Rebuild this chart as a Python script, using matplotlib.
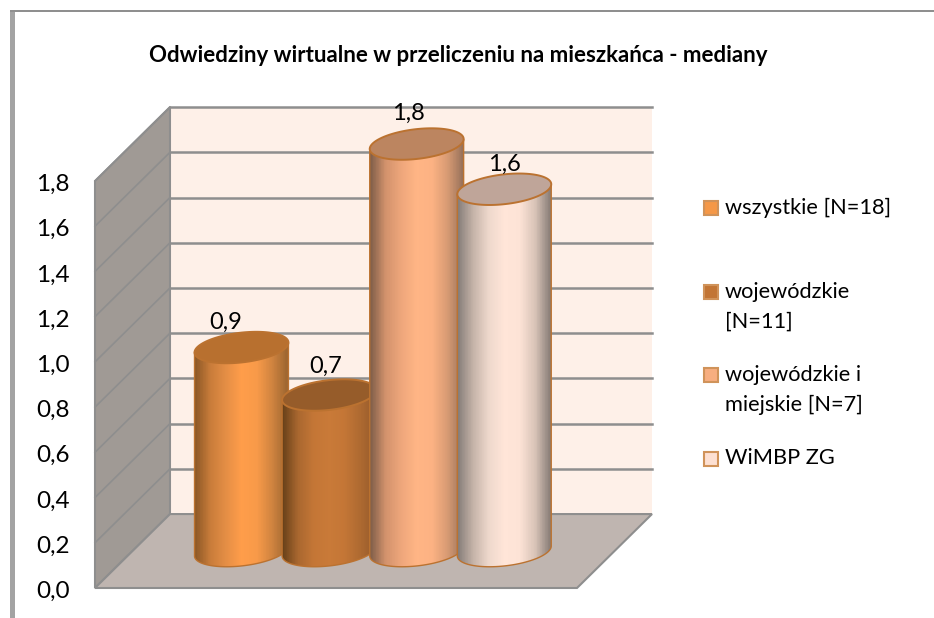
import numpy as np
import matplotlib
matplotlib.use('Agg')
import matplotlib.pyplot as plt
from matplotlib.colors import LinearSegmentedColormap
from matplotlib.patches import Polygon, Rectangle
from matplotlib.transforms import ScaledTranslation

plt.rcParams['font.family'] = ['Lato', 'DejaVu Sans']

# Data
title = 'Odwiedziny wirtualne w przeliczeniu na mieszkańca - mediany'
series = ['wszystkie [N=18]', 'wojewódzkie\n[N=11]', 'wojewódzkie i\nmiejskie [N=7]', 'WiMBP ZG']
values = [0.9, 0.69, 1.8, 1.6]
y_ticks = [0.0, 0.2, 0.4, 0.6, 0.8, 1.0, 1.2, 1.4, 1.6, 1.8]

# Colours
body_colors = [
    ['#8a5726', '#c97c3a', '#e48e45', '#ff9d4a', '#f89a49', '#cf833f', '#9a642f'],
    ['#674019', '#a9672f', '#c47636', '#c97a38', '#c47636', '#ae6a31', '#95592a'],
    ['#7d5c48', '#d2926c', '#eea67b', '#ffb585', '#fcb283', '#d79a73', '#96705a'],
    ['#847c78', '#c5b3a8', '#eed8cc', '#ffe5d8', '#fde3d6', '#d8c3b7', '#857a74'],
]
top_colors = ['#b8702f', '#965c2a', '#bc8560', '#bfa599']
legend_colors = ['#f59847', '#c27535', '#f7ae80', '#fde0d2']
edge_color = '#bb7230'
legend_edge = '#d0935a'
wall_color = '#a09a95'
back_color = '#fef0e8'
floor_color = '#bfb5b0'
grid_color = '#8e8e8e'

fig = plt.figure(figsize=(9.34, 6.18), dpi=100)
W, H = 934, 618
# axes = the front plane of the 3d box
ax = fig.add_axes([95 / W, (H - 588) / H, 482 / W, 407 / H])
ax.set_facecolor('none')
for s in ax.spines.values():
    s.set_visible(False)

depth_x = 0.856
depth_y = 0.327
half_w = 0.536
tilt_a = 0.022
tilt_b = 0.066
x0, x1 = -1.672, 3.83
y_top = y_ticks[-1]

# walls and floor
ax.add_patch(Polygon([(x0 + depth_x, depth_y), (x1 + depth_x, depth_y), (x1 + depth_x, y_top + depth_y),
                      (x0 + depth_x, y_top + depth_y)], fc=back_color, ec='none', clip_on=False, zorder=1))
ax.add_patch(Polygon([(x0, 0), (x0 + depth_x, depth_y), (x0 + depth_x, y_top + depth_y), (x0, y_top)],
                     fc=wall_color, ec=grid_color, lw=1.5, clip_on=False, zorder=2))
ax.add_patch(Polygon([(x0, 0), (x1, 0), (x1 + depth_x, depth_y), (x0 + depth_x, depth_y)],
                     fc=floor_color, ec=grid_color, lw=1.5, clip_on=False, zorder=2))
for t in y_ticks[1:]:
    ax.plot([x0 + depth_x, x1 + depth_x], [t + depth_y, t + depth_y], color=grid_color, lw=1.8,
            clip_on=False, zorder=1.5)
    ax.plot([x0, x0 + depth_x], [t, t + depth_y], color=grid_color, lw=1.2, clip_on=False, zorder=2.5)

# cylinders
base = depth_y / 2
ang = np.linspace(0, 2 * np.pi, 200)
low = np.linspace(np.pi, 2 * np.pi, 100)
label_dx = [-0.177, -0.035, -0.1, 0.0]
label_dy = [0.11, 0.127, 0.136, 0.11]
for i, v in enumerate(values):
    z = 3 + i
    top = base + v
    xb = i + half_w * np.cos(low)
    yb = base + tilt_a * np.cos(low) + tilt_b * np.sin(low)
    body = np.vstack([[i - half_w, top - tilt_a], np.column_stack([xb, yb]), [i + half_w, top + tilt_a]])
    poly = Polygon(body, closed=True, fc='none', ec=edge_color, lw=1.0, clip_on=False, zorder=z + 0.2,
                   transform=ax.transData)
    ax.add_patch(poly)
    cmap = LinearSegmentedColormap.from_list(f'bar{i}', body_colors[i])
    xs = np.linspace(i - half_w, i + half_w, 129)
    mesh = ax.pcolormesh(xs, [0, top + 0.2], np.linspace(0, 1, 128).reshape(1, -1), cmap=cmap,
                         shading='flat', antialiased=False, linewidth=0, zorder=z)
    mesh.set_clip_box(None)
    mesh.set_clip_path(poly)
    ax.add_patch(Polygon(np.column_stack([i + half_w * np.cos(ang),
                                          top + tilt_a * np.cos(ang) + tilt_b * np.sin(ang)]),
                         fc=top_colors[i], ec=edge_color, lw=1.4, joinstyle='round', clip_on=False, zorder=z + 0.4))
    ax.text(i + label_dx[i], top + label_dy[i], f'{v:.1f}'.replace('.', ','), ha='center', va='center',
            fontsize=17, color='black', clip_on=False, zorder=20)

ax.set_xlim(x0, x1)
ax.set_ylim(0, y_top)
ax.set_xticks([])
ax.set_yticks(y_ticks)
ax.set_yticklabels([f'{t:.1f}'.replace('.', ',') for t in y_ticks], fontsize=17.5)
ax.tick_params(axis='y', length=0, pad=18)
# tick labels sit a little lower in the original
shift = ScaledTranslation(0, -1.5 / 100, fig.dpi_scale_trans)
for lab in ax.get_yticklabels():
    lab.set_transform(lab.get_transform() + shift)

# title
fig.text(458 / W, 1 - 55 / H, title, ha='center', va='center', fontsize=16, fontweight='bold', color='black')

# legend, even spacing, text starts level with the marker
for i, name in enumerate(series):
    ly = 208 + 83.5 * i
    fig.add_artist(Rectangle((704 / W, 1 - (ly + 7) / H), 14 / W, 14 / H, transform=fig.transFigure,
                             fc=legend_colors[i], ec=legend_edge, lw=1.5))
    fig.text(725 / W, 1 - (ly - 10) / H, name, ha='left', va='top', fontsize=15.7, color='black', linespacing=1.62)

# chart frame, only left and top remain in the screenshot
fig.add_artist(Rectangle((10 / W, 0), 5 / W, 1 - 10 / H, transform=fig.transFigure, fc='#a3a3a3', ec='none'))
fig.add_artist(Rectangle((10 / W, 1 - 12 / H), 1 - 10 / W, 2 / H, transform=fig.transFigure, fc='#8f8f8f', ec='none'))

fig.savefig('out.png', dpi=100)
